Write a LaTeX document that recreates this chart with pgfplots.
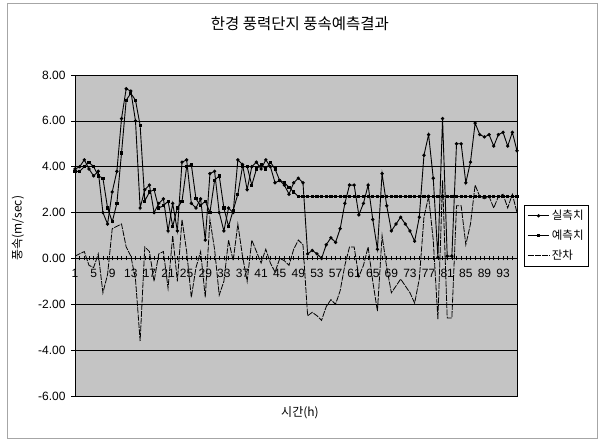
\documentclass[border=0pt]{standalone}
\usepackage{pgfplots}
\pgfplotsset{compat=1.18}
\usepackage{pgfplotstable}
\usepackage{fontspec}
\setmainfont{Liberation Sans}
\newfontfamily\kr{Noto Sans CJK KR}
\definecolor{plotgray}{RGB}{196,196,196}

\pgfplotstableread{
i act pred res
1 3.9 3.8 0.1
2 4.0 3.8 0.2
3 4.3 4.0 0.3
4 3.9 4.2 -0.3
5 3.6 4.0 -0.4
6 3.8 3.6 0.2
7 2.0 3.5 -1.5
8 1.5 2.2 -0.7
9 2.9 1.6 1.3
10 3.8 2.4 1.4
11 6.1 4.6 1.5
12 7.4 6.9 0.5
13 7.3 7.2 0.1
14 6.0 6.9 -0.9
15 2.2 5.8 -3.6
16 3.0 2.5 0.5
17 3.2 2.9 0.3
18 2.0 3.0 -1.0
19 2.4 2.2 0.2
20 2.6 2.3 0.3
21 1.2 2.5 -1.3
22 2.4 1.4 1.0
23 1.2 2.2 -1.0
24 4.2 2.5 1.7
25 4.3 4.0 0.3
26 2.4 4.1 -1.7
27 2.2 2.6 -0.4
28 2.6 2.3 0.3
29 0.8 2.5 -1.7
30 3.7 2.0 1.7
31 3.8 3.4 0.4
32 2.0 3.6 -1.6
33 1.2 2.2 -1.0
34 2.2 1.4 0.8
35 2.0 2.1 -0.1
36 4.3 2.8 1.5
37 4.1 4.0 0.1
38 3.0 4.0 -1.0
39 4.0 3.2 0.8
40 4.2 3.9 0.3
41 3.9 4.1 -0.2
42 4.3 3.9 0.4
43 4.0 4.2 -0.2
44 3.3 3.9 -0.6
45 3.4 3.4 0.0
46 3.2 3.3 -0.1
47 2.8 3.1 -0.3
48 3.3 2.9 0.4
49 3.5 2.7 0.8
50 3.3 2.7 0.6
51 0.2 2.7 -2.5
52 0.35 2.7 -2.35
53 0.2 2.7 -2.5
54 0.0 2.7 -2.7
55 0.6 2.7 -2.1
56 0.9 2.7 -1.8
57 0.7 2.7 -2.0
58 1.3 2.7 -1.4
59 2.4 2.7 -0.3
60 3.2 2.7 0.5
61 3.2 2.7 0.5
62 1.9 2.7 -0.8
63 2.4 2.7 -0.3
64 3.2 2.7 0.5
65 1.7 2.7 -1.0
66 0.4 2.7 -2.3
67 3.7 2.7 1.0
68 2.3 2.7 -0.4
69 1.2 2.7 -1.5
70 1.5 2.7 -1.2
71 1.8 2.7 -0.9
72 1.5 2.7 -1.2
73 1.2 2.7 -1.5
74 0.75 2.7 -1.95
75 1.8 2.7 -0.9
76 4.5 2.7 1.8
77 5.4 2.7 2.7
78 3.5 2.7 0.8
79 0.05 2.7 -2.65
80 6.1 2.7 3.4
81 0.1 2.7 -2.6
82 0.1 2.7 -2.6
83 5.0 2.7 2.3
84 5.0 2.7 2.3
85 3.3 2.7 0.6
86 4.2 2.7 1.5
87 5.9 2.7 3.2
88 5.4 2.7 2.7
89 5.3 2.7 2.6
90 5.4 2.7 2.7
91 4.9 2.7 2.2
92 5.4 2.7 2.7
93 5.5 2.7 2.8
94 4.9 2.7 2.2
95 5.5 2.7 2.8
96 4.7 2.7 2.0
}\data

\begin{document}
\begin{tikzpicture}[x=1pt,y=1pt]
\useasboundingbox (0,0) rectangle (599,441);
\fill[white] (0,0) rectangle (599,441);
\draw[gray!70, line width=0.6pt] (7,3) rectangle (597,438);
\begin{axis}[
  at={(75pt,45pt)}, anchor=south west,
  width=442pt, height=321pt, scale only axis,
  xmin=1, xmax=96, ymin=-6, ymax=8,
  axis background/.style={fill=plotgray},
  axis line style={black, line width=0.6pt},
  xtick=\empty,
  ytick={-6,-4,...,8},
  ytick pos=left,
  ymajorgrids,
  grid style={black, line width=0.6pt},
  tick align=outside,
  major tick length=4pt,
  tick style={black, line width=0.6pt},
  /pgf/number format/assume math mode=true,
  yticklabel style={/pgf/number format/fixed, /pgf/number format/fixed zerofill, /pgf/number format/precision=2, font=\fontsize{12}{13}\selectfont, xshift=-2pt},
  title={\kr 한경 풍력단지 풍속예측결과},
  title style={at={(axis description cs:0.509,1.14)}, anchor=center, font=\fontsize{15.5}{16}\selectfont},
  ylabel={\kr 풍속(m/sec)},
  ylabel style={at={(axis description cs:-0.129,0.523)}, anchor=center, rotate=0, font=\fontsize{12}{13}\selectfont},
  xlabel={\kr 시간(h)},
  xlabel style={at={(axis description cs:0.509,-0.053)}, anchor=center, font=\fontsize{12}{13}\selectfont},
  legend style={at={(axis description cs:1.016,0.595)}, anchor=north west, draw=black, line width=0.5pt, fill=white, font=\kr\fontsize{11.5}{12}\selectfont, row sep=5pt, inner sep=3pt},
  legend cell align=left,
  legend image code/.code={\draw[mark repeat=2,mark phase=2,#1] plot coordinates {(0cm,0cm) (0.38cm,0cm) (0.76cm,0cm)};},
]
\addplot[black, line width=0.9pt, mark=*, mark size=1.2pt] table[x=i, y=act] {\data};
\addlegendentry{실측치}
\addplot[black, line width=0.9pt, mark=square*, mark size=1.1pt] table[x=i, y=pred] {\data};
\addlegendentry{예측치}
\addplot[black, line width=0.8pt, dash pattern=on 6pt off 1.2pt] table[x=i, y=res] {\data};
\addlegendentry{잔차}
\end{axis}
\begin{axis}[
  at={(75pt,45pt)}, anchor=south west,
  width=442pt, height=321pt, scale only axis,
  xmin=1, xmax=96, ymin=-6, ymax=8,
  axis x line=middle, axis y line=none,
  x axis line style={-, black, line width=0.8pt},
  xtick={1,5,...,93},
  minor xtick={1,...,96},
  ytick=\empty,
  tick align=center,
  major tick length=4pt, minor tick length=4pt,
  tick style={black, line width=0.5pt},
  /pgf/number format/assume math mode=true,
  xticklabel style={font=\fontsize{12}{13}\selectfont, yshift=-5pt},
]
\addplot[draw=none] coordinates {(1,0)};
\end{axis}
\end{tikzpicture}
\end{document}
